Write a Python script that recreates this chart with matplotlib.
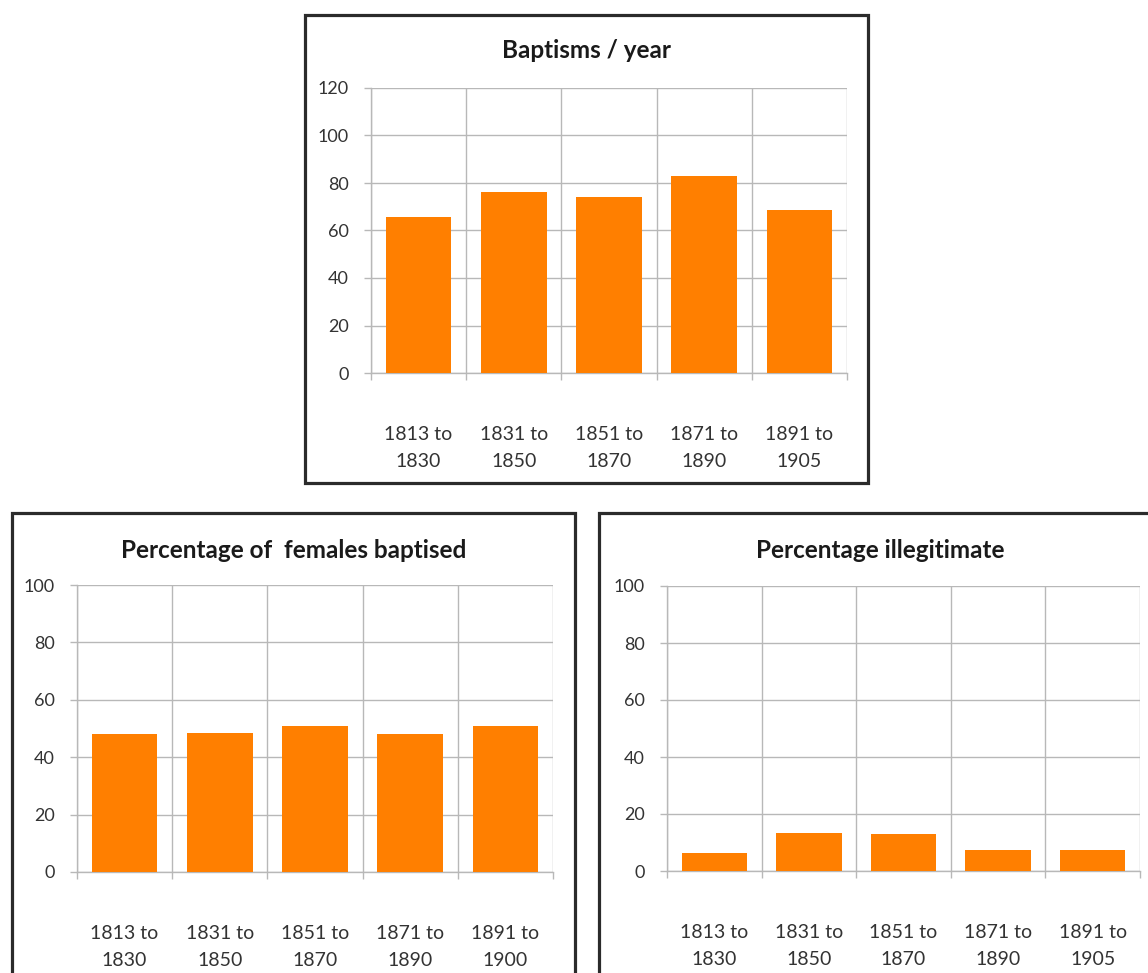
import numpy as np
import matplotlib
matplotlib.use('Agg')
import matplotlib.pyplot as plt
from matplotlib.patches import Rectangle

plt.rc('font', family=['Lato', 'DejaVu Sans'], size=13)
plt.rc('axes', linewidth=1.0)

W, H = 1148, 973
DPI = 100

# periods and values for the three panels
periods = ["1813 to\n1830", "1831 to\n1850", "1851 to\n1870", "1871 to\n1890", "1891 to\n1905"]
periods_females = ["1813 to\n1830", "1831 to\n1850", "1851 to\n1870", "1871 to\n1890", "1891 to\n1900"]
baptisms_per_year = [65.5, 76, 74, 83, 68.5]
pct_females = [48, 48.5, 51, 48, 51]
pct_illegitimate = [6.3, 13.5, 13, 7.5, 7.5]

ORANGE = '#ff7f00'
GRID = '#b8b8b8'
TEXT = '#333333'


def fx(x):
    return x / W


def fy(y):
    return 1 - y / H


def panel(fig, box, plot, title, title_y, labels, values, ymax):
    # dark frame around each chart
    x0, y0, x1, y1 = box
    fig.add_artist(Rectangle((fx(x0), fy(y1)), fx(x1 - x0), (y1 - y0) / H,
                             transform=fig.transFigure, fill=False,
                             edgecolor='#2b2b2b', linewidth=2.3, clip_on=False))
    fig.text(fx((x0 + x1) / 2), fy(title_y), title, ha='center', va='center',
             fontsize=17.5, fontweight='bold', color='#1a1a1a')

    px0, py0, px1, py1 = plot
    ax = fig.add_axes([fx(px0), fy(py1), fx(px1 - px0), (py1 - py0) / H])
    x = np.arange(len(values))
    ax.bar(x, values, width=0.69, color=ORANGE, zorder=3)

    ax.set_xlim(-0.5, len(values) - 0.5)
    ax.set_ylim(0, ymax)
    ax.set_yticks(np.arange(0, ymax + 1, 20))
    ax.set_xticks(x)
    ax.set_xticklabels(labels, linespacing=1.75)
    ax.set_xticks(np.arange(len(values) + 1) - 0.5, minor=True)

    ax.grid(True, axis='y', which='major', color=GRID, linewidth=1.0, zorder=0)
    ax.grid(True, axis='x', which='minor', color=GRID, linewidth=1.0, zorder=0)
    ax.tick_params(axis='x', which='major', length=0, pad=38, colors=TEXT, labelsize=14)
    ax.tick_params(axis='x', which='minor', length=5, width=1.0, color=GRID, direction='out')
    ax.tick_params(axis='y', length=5, width=1.0, color=GRID, pad=11, labelcolor=TEXT, labelsize=13)

    for s in ('top', 'right'):
        ax.spines[s].set_visible(False)
    for s in ('left', 'bottom'):
        ax.spines[s].set_color(GRID)
    return ax


fig = plt.figure(figsize=(W / DPI, H / DPI), dpi=DPI)

panel(fig, (305, 15, 868, 483), (371, 88, 847, 373), 'Baptisms / year', 51,
      periods, baptisms_per_year, 120)
panel(fig, (12, 513, 575, 1000), (77, 585, 553, 872), 'Percentage of  females baptised', 550,
      periods_females, pct_females, 100)
panel(fig, (599, 513, 1162, 1000), (667, 586, 1140, 871), 'Percentage illegitimate', 550,
      periods, pct_illegitimate, 100)

fig.savefig('out.png', dpi=DPI)
